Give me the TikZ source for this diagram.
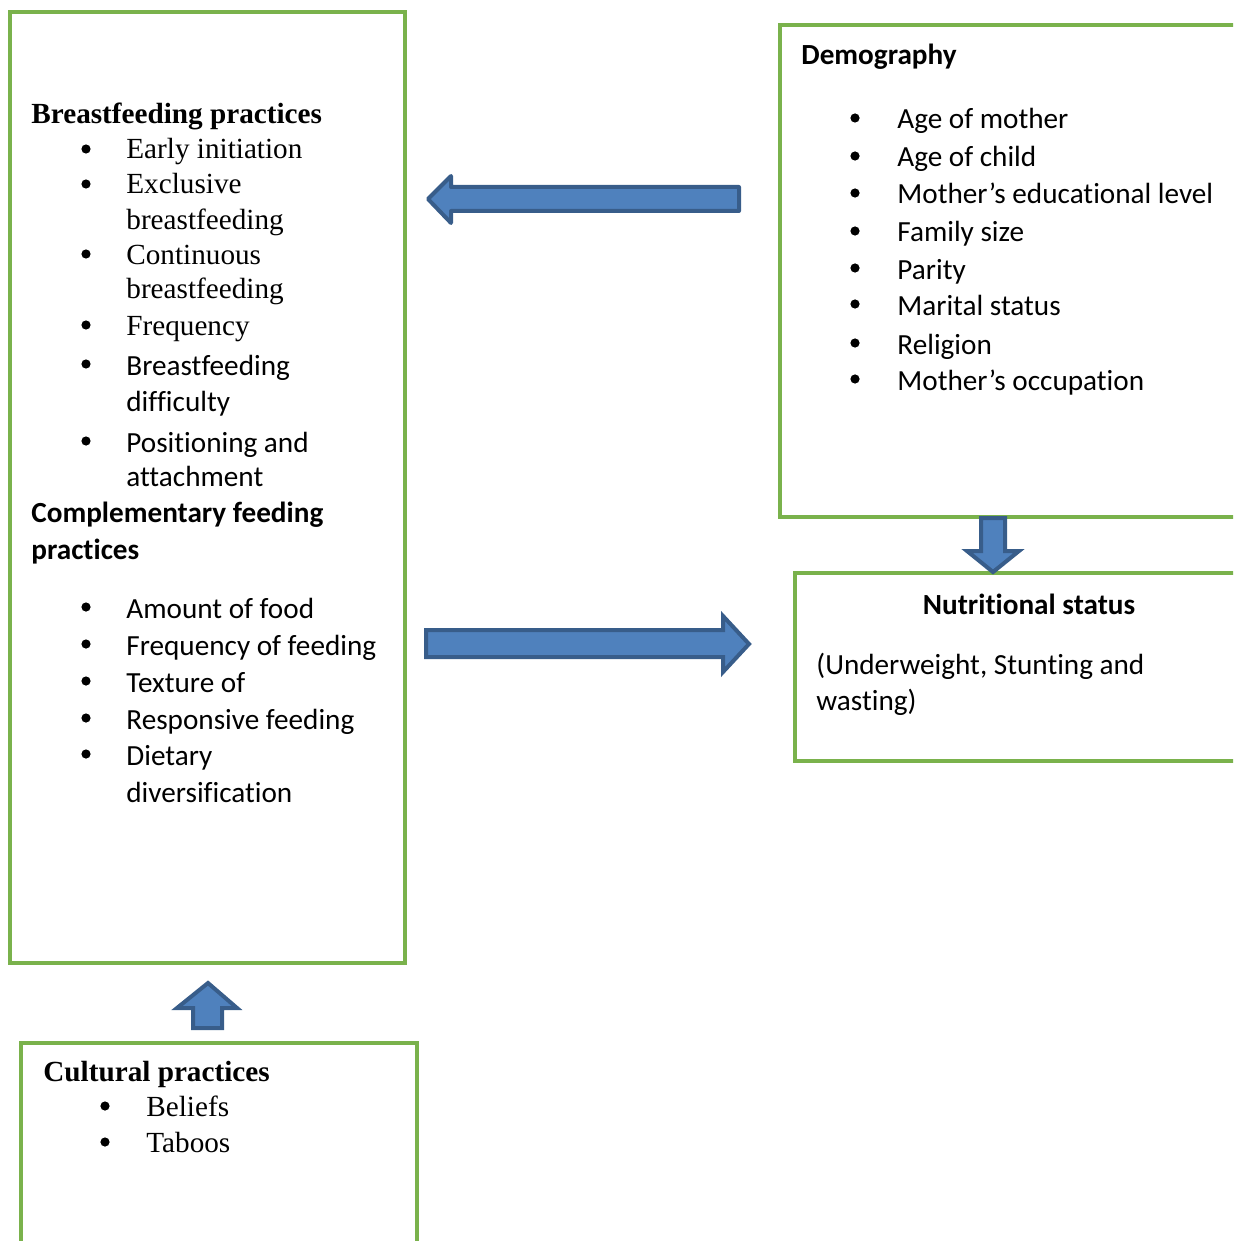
\documentclass[tikz,border=0pt]{standalone}
\usepackage{fontspec}
\newfontfamily\timesfont[Ligatures=NoCommon]{Liberation Serif}
\newfontfamily\calfont[Ligatures=NoCommon]{Carlito}
\definecolor{boxgreen}{RGB}{122,178,76}
\definecolor{arrfill}{RGB}{79,129,189}
\definecolor{arrline}{RGB}{56,93,138}
\tikzset{
  gbox/.style={draw=boxgreen, line width=1.6pt},
  barrow/.style={fill=arrfill, draw=arrline, line width=2pt, line join=round},
  tt/.style={anchor=base west, inner sep=0pt, yshift=-1pt, font=\timesfont\fontsize{14.6}{17}\selectfont},
  tb/.style={tt, font=\timesfont\bfseries\fontsize{14.6}{17}\selectfont},
  ct/.style={anchor=base west, inner sep=0pt, yshift=-1pt, font=\calfont\fontsize{14.6}{17}\selectfont},
  cb/.style={ct, font=\calfont\bfseries\fontsize{14.6}{17}\selectfont},
  bul/.style={circle, fill=black, inner sep=0pt, minimum size=4.6pt},
}
\begin{document}
\begin{tikzpicture}[x=0.5pt,y=-0.5pt]
\useasboundingbox (0,0) rectangle (1233,1241);
\clip (0,0) rectangle (1233,1241);
% boxes
\draw[gbox] (10,12) rectangle (405,963);
\draw[gbox] (780,25) rectangle (1245,517);
\draw[gbox] (795,573) rectangle (1245,761);
\draw[gbox] (21,1043) rectangle (417,1260);
% left box text
\node[tb] (bfh) at (31,122) {Breastfeeding practices};
\foreach \n/\y in {b1/157,b2/192,b3/262,b4/333}{\node[bul] (\n) at (86,\y-8) {};}
\node[tt] (e1) at (126,157) {Early initiation};
\node[tt] (e2) at (126,192) {Exclusive};
\node[tt] (e2b) at (126,227) {breastfeeding};
\node[tt] (e3) at (126,262) {Continuous};
\node[tt] (e3b) at (126,296) {breastfeeding};
\node[tt] (e4) at (126,333) {Frequency};
\foreach \n/\y in {b5/373,b6/450,c1/616,c2/653,c3/690,c4/727,c5/763}{\node[bul] (\n) at (86,\y-9) {};}
\node[ct] (e5) at (126,373) {Breastfeeding};
\node[ct] (e5b) at (126,409) {difficulty};
\node[ct] (e6) at (126,450) {Positioning and};
\node[ct] (e6b) at (126,484) {attachment};
\node[cb] (cfh) at (31,520) {Complementary feeding};
\node[cb] (cfh2) at (31,557) {practices};
\node[ct] (f1) at (126,616) {Amount of food};
\node[ct] (f2) at (126,653) {Frequency of feeding};
\node[ct] (f3) at (126,690) {Texture of};
\node[ct] (f4) at (126,727) {Responsive feeding};
\node[ct] (f5) at (126,763) {Dietary};
\node[ct] (f5b) at (126,800) {diversification};
% demography
\node[cb] (dh) at (801,63) {Demography};
\foreach \n/\y/\t in {d1/127/Age of mother,d2/165/Age of child,d3/202/Mother’s educational level,d4/240/Family size,d5/277/Parity,d6/313/Marital status,d7/352/Religion,d8/388/Mother’s occupation}{
  \node[bul] (\n b) at (855,\y-9) {};
  \node[ct] (\n) at (897,\y) {\t};
}
% nutritional status
\node[cb, anchor=base] (nh) at (1029,612) {Nutritional status};
\node[ct] (n1) at (816,672) {(Underweight, Stunting and};
\node[ct] (n2) at (816,708) {wasting)};
% cultural
\node[tb] (ch) at (43,1079) {Cultural practices};
\node[bul] (cb1) at (105,1106) {};
\node[bul] (cb2) at (105,1142) {};
\node[tt] (c1t) at (146,1114) {Beliefs};
\node[tt] (c2t) at (146,1150) {Taboos};
% block arrows
\draw[barrow] (428,199) -- (451,176) -- (451,187) -- (739,187) -- (739,211) -- (451,211) -- (451,223) -- cycle;
\draw[barrow, line join=miter] (426,630) -- (723,630) -- (723,616) -- (749,644) -- (723,672) -- (723,657) -- (426,657) -- cycle;
\draw[barrow, line join=miter] (981,518) -- (1005,518) -- (1005,551) -- (1019,551) -- (993,572) -- (967,551) -- (981,551) -- cycle;
\draw[barrow, line join=miter] (208,983) -- (237,1008) -- (222,1008) -- (222,1028) -- (193,1028) -- (193,1008) -- (177,1008) -- cycle;
\end{tikzpicture}
\end{document}
